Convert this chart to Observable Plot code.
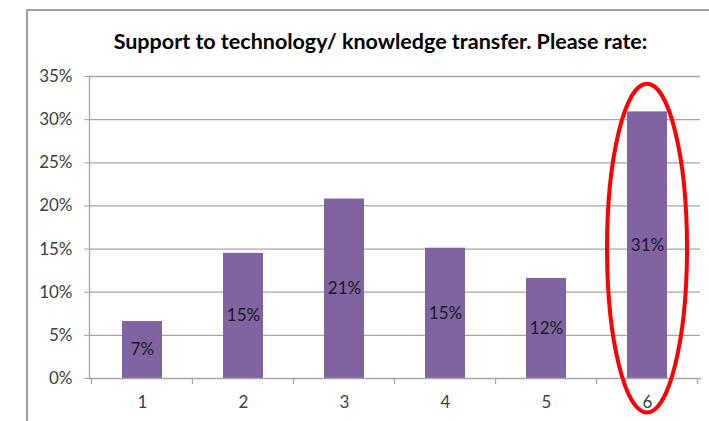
<!DOCTYPE html>
<html>
<head>
<meta charset="utf-8">
<script src="https://cdn.jsdelivr.net/npm/d3@7"></script>
<script src="https://cdn.jsdelivr.net/npm/@observablehq/plot@0.6"></script>
<style>
  html, body { margin: 0; padding: 0; background: #fff; }
  body { width: 709px; height: 421px; position: relative; overflow: hidden; font-family: Lato, "Open Sans", sans-serif; }
  #frame { position: absolute; left: 26px; top: 9px; width: 700px; height: 430px; border-left: 2px solid #a0a0a0; border-top: 2px solid #a0a0a0; box-sizing: border-box; }
  #title { position: absolute; left: 0; width: 709px; top: 28px; padding-left: 52px; box-sizing: border-box; text-align: center; font-weight: bold; font-size: 21.5px; color: #000; font-family: Lato, sans-serif; }
  #chart { position: absolute; left: 0; top: 60px; }
</style>
</head>
<body>
<div id="frame"></div>
<div id="title">Support to technology/ knowledge transfer. Please rate:</div>
<div id="chart"></div>
<script>
const categories = ["1", "2", "3", "4", "5", "6"];
const shares = [0.066, 0.145, 0.208, 0.151, 0.116, 0.309];
const barLabels = ["7%", "15%", "21%", "15%", "12%", "31%"];
const yTicks = [0, 0.05, 0.10, 0.15, 0.20, 0.25, 0.30, 0.35];
const highlightCategory = "6";
const highlightRange = [-0.04, 0.341];

const data = categories.map((c, i) => ({cat: c, v: shares[i], label: barLabels[i]}));

const axisColor = "#a6a6a6";

const extras = (index, scales, values, dimensions) => {
  const g = d3.create("svg:g");
  const x = scales.x, y = scales.y;
  const step = x.step ? x.step() : x.bandwidth();
  const bw = x.bandwidth();
  const off = (step - bw) / 2;
  const yb = dimensions.height - dimensions.marginBottom;
  const bounds = categories.map(c => x(c) - off).concat([x(categories[categories.length - 1]) + bw + off]);
  for (const b of bounds) {
    g.append("line").attr("x1", b).attr("x2", b).attr("y1", yb).attr("y2", yb + 6)
      .attr("stroke", axisColor).attr("stroke-width", 1.3);
  }
  const cx = x(highlightCategory) + bw / 2;
  const yTop = y(highlightRange[1]), yBot = y(highlightRange[0]);
  g.append("ellipse").attr("cx", cx).attr("cy", (yTop + yBot) / 2)
    .attr("rx", bw).attr("ry", (yBot - yTop) / 2)
    .attr("fill", "none").attr("stroke", "#ff0000").attr("stroke-width", 4);
  return g.node();
};

const fmt = d => Math.round(d * 100) + "%";

const chart = Plot.plot({
  width: 709,
  height: 361,
  marginLeft: 89,
  marginRight: 9,
  marginTop: 16,
  marginBottom: 43,
  style: {fontFamily: "Lato, sans-serif", fontSize: "17px", color: "#404040", background: "transparent", overflow: "visible"},
  x: {domain: categories, paddingInner: 0.6, paddingOuter: 0.3, label: null},
  y: {domain: [0, 0.35], label: null},
  marks: [
    Plot.ruleY(yTicks.slice(1), {stroke: axisColor, strokeWidth: 1.3}),
    Plot.barY(data, {x: "cat", y: "v", fill: "#8064A2"}),
    Plot.text(data, {x: "cat", y: d => d.v / 2, text: "label", fill: "#1a1a1a", fontSize: 17}),
    Plot.axisY({ticks: yTicks, tickFormat: fmt, tickSize: 5, tickPadding: 12, stroke: axisColor, color: "#404040", fontSize: 17, label: null}),
    Plot.axisX({tickSize: 0, tickPadding: 17, label: null, color: "#404040", fontSize: 17}),
    Plot.frame({anchor: "left", stroke: axisColor, strokeWidth: 1.3}),
    Plot.frame({anchor: "bottom", stroke: axisColor, strokeWidth: 1.3}),
    extras
  ]
});
document.getElementById("chart").appendChild(chart);
</script>
</body>
</html>
